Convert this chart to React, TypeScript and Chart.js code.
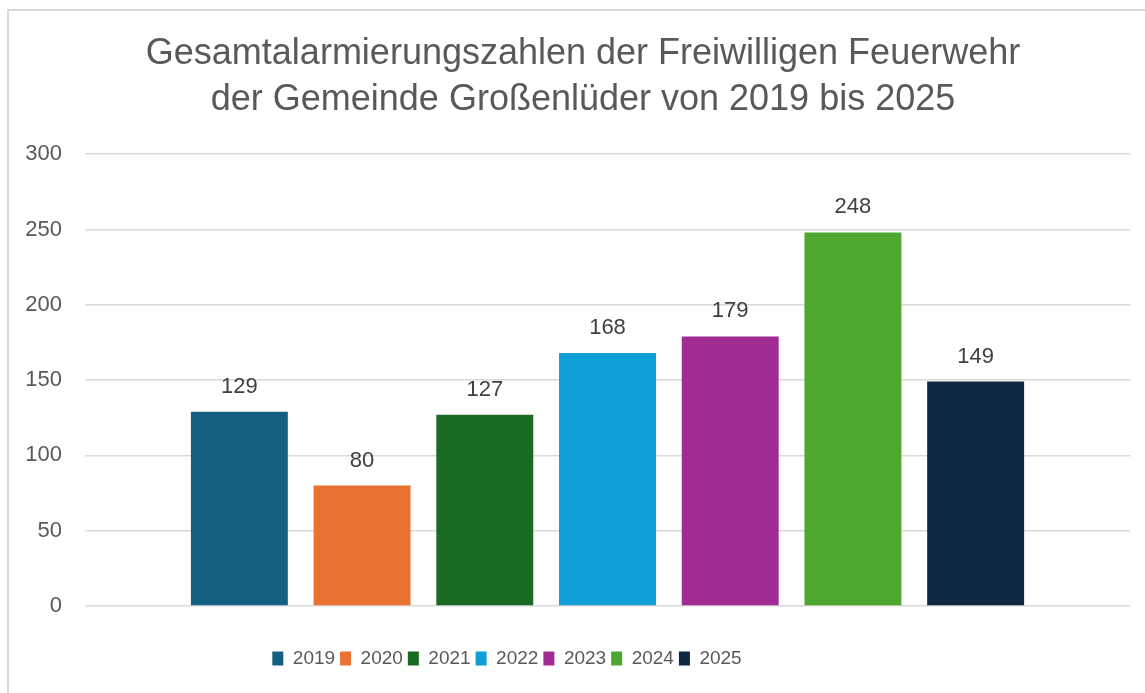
import React, { useEffect, useRef } from "react";
import { Chart, registerables } from "chart.js";

Chart.register(...registerables);

const TITLE_LINES = [
  "Gesamtalarmierungszahlen der Freiwilligen Feuerwehr",
  "der Gemeinde Großenlüder von 2019 bis 2025",
];
const CATEGORIES = [""];
const YEARS = ["2019", "2020", "2021", "2022", "2023", "2024", "2025"];
const VALUES = [129, 80, 127, 168, 179, 248, 149];
const COLORS = ["#156082", "#E97132", "#196B24", "#0F9ED5", "#A02B93", "#4EA72E", "#0E2841"];
const Y_MIN = 0;
const Y_MAX = 300;
const Y_STEP = 50;

const FONT = "'Liberation Sans', Arial, sans-serif";

const dataLabelPlugin = {
  id: "dataLabels",
  afterDatasetsDraw(chart: any) {
    const ctx = chart.ctx;
    ctx.save();
    ctx.font = `22px ${FONT}`;
    ctx.fillStyle = "#404040";
    ctx.textAlign = "center";
    ctx.textBaseline = "alphabetic";
    chart.data.datasets.forEach((ds: any, i: number) => {
      const meta = chart.getDatasetMeta(i);
      meta.data.forEach((bar: any, j: number) => {
        ctx.fillText(String(ds.data[j]), bar.x, bar.y - 19);
      });
    });
    ctx.restore();
  },
};

const boxShiftPlugin = {
  id: "boxShift",
  afterLayout(chart: any) {
    const lg = chart.legend;
    if (lg) {
      lg.left -= 62;
      lg.right -= 62;
    }
    const tt = chart.titleBlock;
    if (tt) {
      tt.left += 14;
      tt.right += 14;
    }
  },
};

export default function App() {
  const ref = useRef<HTMLCanvasElement | null>(null);
  useEffect(() => {
    if (!ref.current) return;
    const chart = new Chart(ref.current, {
      type: "bar",
      data: {
        labels: CATEGORIES,
        datasets: YEARS.map((y, i) => ({
          label: y,
          data: [VALUES[i]],
          backgroundColor: COLORS[i],
          borderWidth: 0,
          categoryPercentage: 0.822,
          barPercentage: 0.79,
        })),
      },
      options: {
        animation: false,
        responsive: false,
        maintainAspectRatio: false,
        layout: { padding: { left: 0, right: 28, top: 21, bottom: 22 } },
        plugins: {
          title: {
            display: true,
            text: TITLE_LINES,
            color: "#595959",
            font: { family: FONT, size: 36, weight: "normal", lineHeight: 1.28 },
            padding: { top: 0, bottom: 31 },
          },
          legend: {
            position: "bottom",
            labels: {
              color: "#595959",
              font: { family: FONT, size: 19 },
              boxWidth: 11,
              boxHeight: 14,
              padding: 5,
            },
          },
          tooltip: { enabled: false },
        },
        scales: {
          x: {
            ticks: { display: false },
            grid: { display: false, drawTicks: false },
            border: { display: false },
            afterFit(scale: any) {
              scale.height = 38;
            },
          },
          y: {
            min: Y_MIN,
            max: Y_MAX,
            ticks: {
              stepSize: Y_STEP,
              color: "#595959",
              font: { family: FONT, size: 22 },
              padding: 23,
            },
            grid: { color: "#d9d9d9", lineWidth: 1.5, drawTicks: false },
            border: { display: false },
            afterFit(scale: any) {
              scale.width = 77;
            },
          },
        },
      },
      plugins: [dataLabelPlugin, boxShiftPlugin],
    });
    return () => chart.destroy();
  }, []);

  return (
    <div style={{ position: "fixed", left: 0, top: 0, width: 1145, height: 693, overflow: "hidden", background: "#fff" }}>
      <div
        style={{
          position: "absolute",
          left: 7,
          top: 9,
          width: 1160,
          height: 700,
          border: "2px solid #d9d9d9",
          boxSizing: "border-box",
        }}
      />
      <canvas ref={ref} width={1150} height={690} style={{ position: "absolute", left: 8, top: 10, width: 1150, height: 690 }} />
    </div>
  );
}
